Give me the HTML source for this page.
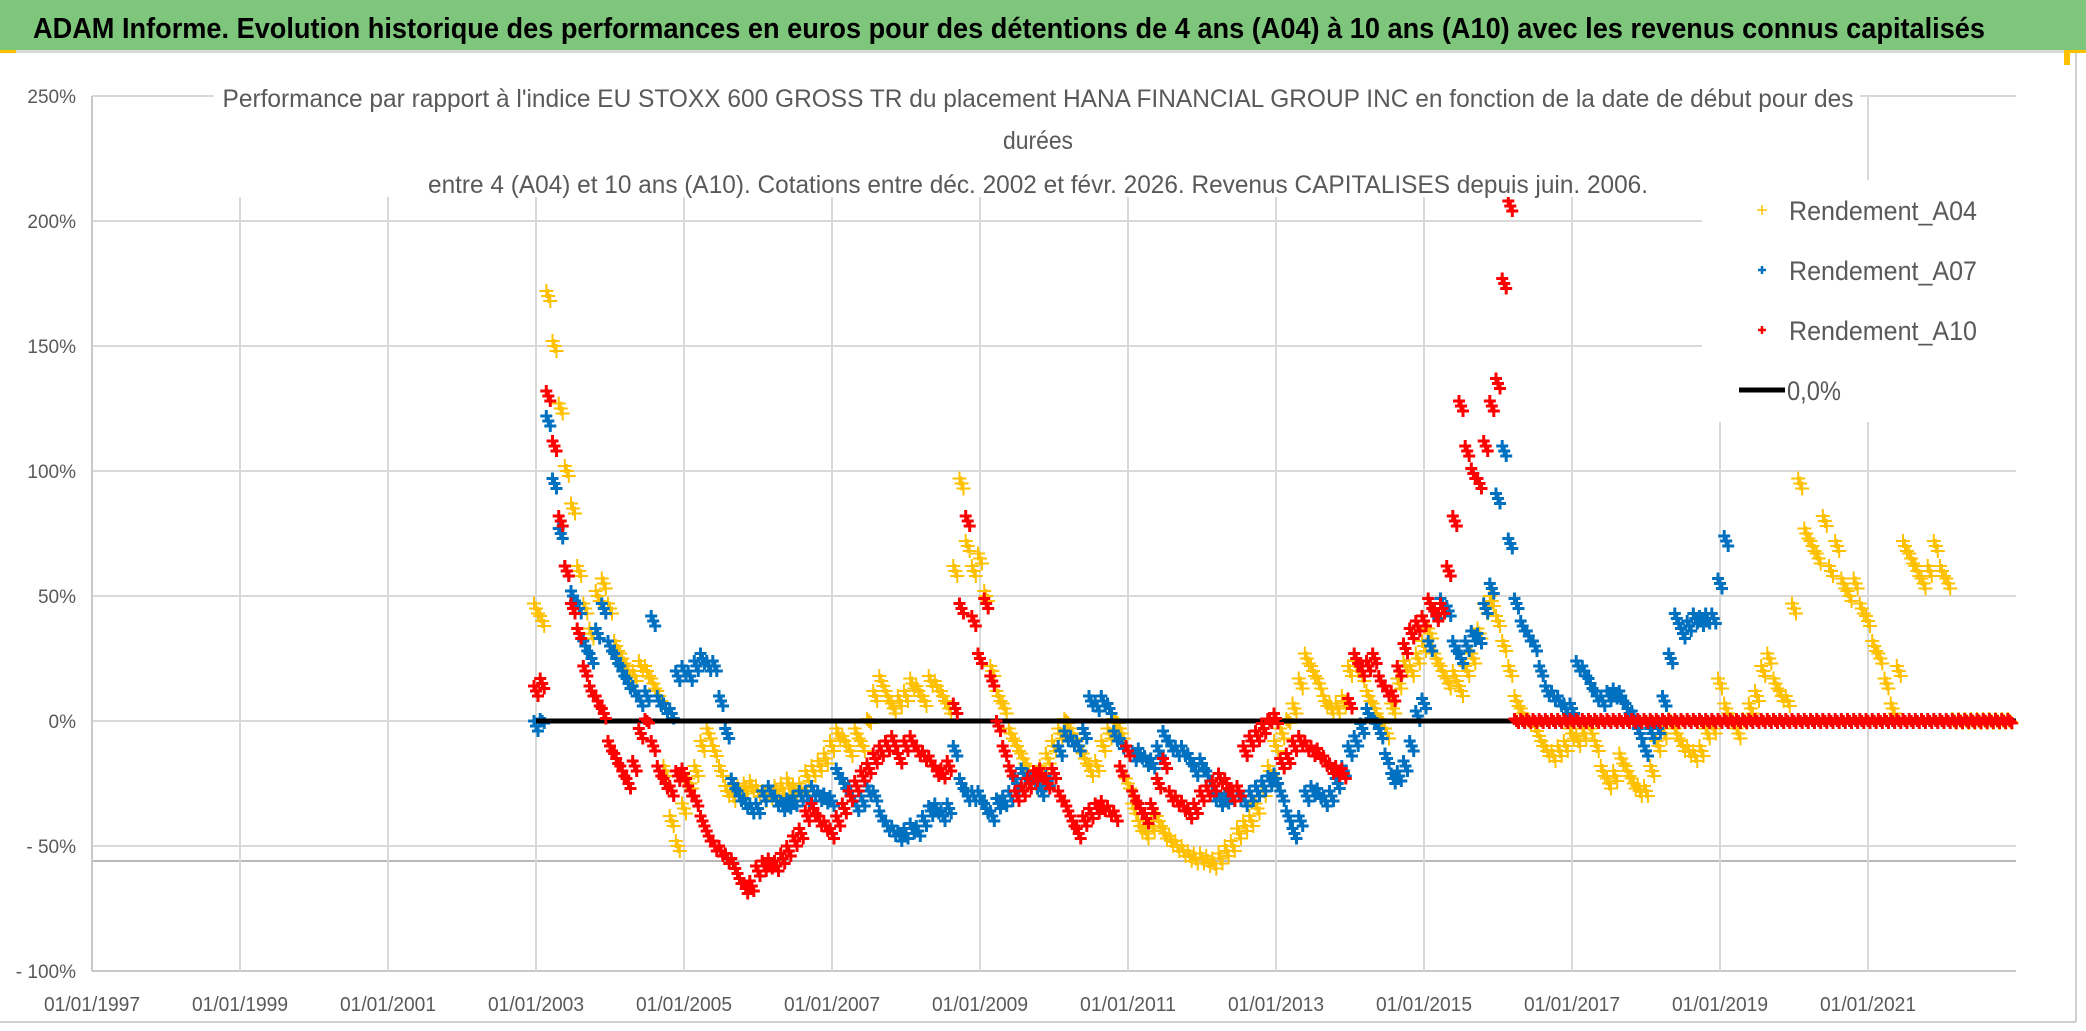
<!DOCTYPE html>
<html><head><meta charset="utf-8"><style>
html,body{margin:0;padding:0;background:#fff;}
svg{display:block;}
text{font-family:"Liberation Sans Narrow","Liberation Sans",sans-serif;}
</style></head>
<body>
<svg id="chart" width="2086" height="1031" viewBox="0 0 2086 1031" xmlns="http://www.w3.org/2000/svg">
  <rect x="0" y="0" width="2086" height="1031" fill="#fff"/>
  <rect x="0" y="0" width="2086" height="50" fill="#7EC67B"/>
  <rect x="0" y="50" width="2086" height="3" fill="#d9d9d9"/>
  <rect x="0" y="50" width="16" height="3" fill="#FFC000"/>
  <rect x="2064" y="50" width="22" height="15" fill="#FFC000"/>
  <rect x="2070" y="53" width="16" height="978" fill="#fff"/>
  <line x1="2076" y1="53" x2="2076" y2="1022" stroke="#d0d0d0" stroke-width="2"/>
  <line x1="0" y1="1022" x2="2076" y2="1022" stroke="#d0d0d0" stroke-width="2"/>
  <text x="33" y="38" font-size="29" font-weight="bold" fill="#000" textLength="1952" lengthAdjust="spacingAndGlyphs">ADAM Informe. Evolution historique des performances en euros pour des détentions de 4 ans (A04) à 10 ans (A10) avec les revenus connus capitalisés</text>
  <g id="grid"></g>
  <g id="series"></g>
  <rect x="214" y="80" width="1646" height="117" fill="#fff"/>
  <text x="1038" y="107" font-size="25" fill="#595959" text-anchor="middle" textLength="1631" lengthAdjust="spacingAndGlyphs">Performance par rapport à l'indice EU STOXX 600 GROSS TR  du placement HANA FINANCIAL GROUP INC en fonction de la date de début pour des</text>
  <text x="1038" y="149" font-size="25" fill="#595959" text-anchor="middle" textLength="70" lengthAdjust="spacingAndGlyphs">durées</text>
  <text x="1038" y="193" font-size="25" fill="#595959" text-anchor="middle" textLength="1220" lengthAdjust="spacingAndGlyphs">entre 4 (A04) et 10 ans (A10). Cotations entre déc. 2002 et févr. 2026. Revenus CAPITALISES depuis juin. 2006.</text>
  <g id="legend">
    <rect x="1702" y="180" width="314" height="242" fill="#fff"/>
    <g>
      <path d="M1757 210h10M1762 205v10" stroke="#FFC000" stroke-width="1.5"/>
      <text x="1789" y="220" font-size="27" fill="#595959" textLength="188" lengthAdjust="spacingAndGlyphs">Rendement_A04</text>
    </g>
    <g>
      <path d="M1758 270h8M1762 266v8" stroke="#0070C0" stroke-width="2.5"/>
      <text x="1789" y="280" font-size="27" fill="#595959" textLength="188" lengthAdjust="spacingAndGlyphs">Rendement_A07</text>
    </g>
    <g>
      <path d="M1758 330h8M1762 326v8" stroke="#FF0000" stroke-width="2.5"/>
      <text x="1789" y="340" font-size="27" fill="#595959" textLength="188" lengthAdjust="spacingAndGlyphs">Rendement_A10</text>
    </g>
    <g>
      <line x1="1739" y1="390" x2="1785" y2="390" stroke="#000" stroke-width="5"/>
      <text x="1787" y="400" font-size="27" fill="#595959" textLength="54" lengthAdjust="spacingAndGlyphs">0,0%</text>
    </g>
  </g>
  <g id="axes"></g>
</svg>
<script>
// ---- data ----
const xTickLabels = ["01/01/1997","01/01/1999","01/01/2001","01/01/2003","01/01/2005","01/01/2007","01/01/2009","01/01/2011","01/01/2013","01/01/2015","01/01/2017","01/01/2019","01/01/2021"];
const xTickYears = [1997,1999,2001,2003,2005,2007,2009,2011,2013,2015,2017,2019,2021];
const yTickValues = [250,200,150,100,50,0,-50,-100];
const yTickLabels = ["250%","200%","150%","100%","50%","0%","- 50%","- 100%"];
const seriesStart = 2003.0;
const monthStep = 1/12;
const a04 = [
45,40,170,150,125,100,85,60,45,35,50,55,
45,30,25,20,18,22,20,15,10,-20,-40,-50,
-35,-25,-20,-10,-5,-12,-20,-28,-30,-28,-27,-26,
-28,-30,-29,-28,-27,-25,-28,-27,-22,-20,-18,-15,
-10,-5,-8,-12,-5,-10,0,10,16,10,5,8,
10,15,12,8,16,14,10,5,60,95,70,60,
65,50,20,10,5,-5,-10,-15,-20,-25,-20,-15,
-10,-5,0,-5,-10,-15,-20,-18,-10,-5,0,-5,
-25,-35,-42,-45,-42,-40,-45,-48,-50,-52,-54,-55,
-55,-56,-57,-55,-52,-50,-45,-42,-40,-35,-28,-20,
-10,-5,0,5,15,25,20,15,8,5,5,8,
20,22,18,10,5,0,-5,5,15,22,20,25,
30,35,25,20,15,18,12,20,25,35,45,48,
40,30,20,8,3,0,-2,-8,-12,-14,-12,-10,
-5,-8,-5,-3,-10,-20,-25,-22,-15,-20,-25,-28,
-28,-20,-10,-5,0,-5,-10,-12,-14,-12,-5,-3,
15,5,0,-5,0,5,10,20,25,15,10,8,
45,95,75,70,65,80,60,70,55,50,55,45,
40,30,25,15,5,20,70,65,60,55,60,70,
60,55,0,0,0,0,0,0,0,0,0,0];
const a07 = [
-2,0,120,95,75,60,50,45,30,25,35,45,
30,25,20,15,12,8,10,40,8,5,3,18,
20,18,22,25,22,22,8,-5,-25,-30,-33,-35,
-35,-30,-28,-32,-34,-33,-32,-30,-30,-28,-30,-31,
-32,-21,-25,-28,-34,-32,-28,-30,-38,-42,-44,-46,
-45,-43,-44,-40,-36,-35,-38,-35,-12,-25,-30,-30,
-30,-35,-38,-33,-32,-30,-25,-21,-23,-25,-28,-24,
-21,-12,-6,-8,-10,-5,8,6,8,5,-6,-9,
-12,-14,-13,-16,-17,-12,-6,-10,-12,-12,-15,-20,
-17,-22,-30,-32,-31,-30,-30,-32,-30,-28,-26,-24,
-23,-30,-38,-45,-40,-30,-28,-29,-32,-30,-25,-20,
-12,-8,-3,3,0,-5,-15,-23,-22,-18,-10,2,
7,30,43,47,44,30,25,30,34,33,45,53,
89,108,71,47,38,34,30,20,12,10,8,5,
5,22,20,15,10,8,10,11,10,5,2,-5,
-12,-5,-3,8,25,41,35,38,41,40,41,41,
55,72];
const a10 = [
12,15,130,110,80,60,45,35,20,12,8,3,
-10,-15,-20,-25,-18,-5,0,-10,-20,-25,-28,-22,
-21,-28,-32,-40,-46,-50,-52,-55,-57,-63,-67,-66,
-60,-58,-57,-58,-55,-52,-48,-45,-38,-35,-40,-42,
-45,-40,-35,-30,-26,-22,-19,-15,-12,-10,-8,-15,
-10,-8,-12,-14,-16,-20,-21,-18,5,45,80,40,
25,47,16,-2,-12,-20,-30,-28,-25,-22,-21,-25,
-21,-30,-34,-40,-45,-40,-37,-35,-34,-36,-38,-20,
-12,-30,-35,-39,-35,-25,-17,-30,-32,-34,-37,-35,
-30,-28,-26,-23,-25,-30,-28,-12,-8,-6,-3,0,
1,-17,-15,-10,-8,-10,-12,-13,-16,-19,-20,-21,
7,25,20,22,25,16,12,10,20,29,35,38,
40,47,42,45,60,80,126,108,99,95,110,126,
135,175,206,0,0,0,0,0,0,0,0,0,
0,0,0,0,0,0,0,0,0,0,0,0,
0,0,0,0,0,0,0,0,0,0,0,0,
0,0,0,0,0,0,0,0,0,0,0,0,
0,0,0,0,0,0,0,0,0,0,0,0,
0,0,0,0,0,0,0,0,0,0,0,0,
0,0,0,0,0,0,0,0,0,0,0,0];
const zeroLineYears = [2003.0, 2023.0];
const zeroLineValues = [0, 0];
const extraLineValue = -56;

// ---- scales ----
const X0 = 92, PX_PER_YEAR = 74, Y0 = 721, PX_PER_PCT = 2.5;
const xMin = 1997, xMax = 2023;
function xs(year){ return X0 + (year - xMin) * PX_PER_YEAR; }
function ys(v){ return Y0 - v * PX_PER_PCT; }
const NS = "http://www.w3.org/2000/svg";
const grid = document.getElementById('grid');
const axes = document.getElementById('axes');
const seriesG = document.getElementById('series');

function mk(tag, attrs){ const e = document.createElementNS(NS, tag); for (const k in attrs) e.setAttribute(k, attrs[k]); return e; }

yTickValues.forEach((v, i) => {
  const l = mk('line', {x1: xs(xMin), x2: xs(xMax), y1: ys(v), y2: ys(v), stroke: i === yTickValues.length-1 ? '#c8c8c8' : '#d9d9d9', 'stroke-width': 2});
  
  
  grid.appendChild(l);
  const t = mk('text', {x: 76, y: ys(v) + 7, 'font-size': 19, fill: '#595959', 'text-anchor': 'end'});
  t.textContent = yTickLabels[i];
  
  
  axes.appendChild(t);
});
const ex = mk('line', {x1: xs(xMin), x2: xs(xMax), y1: ys(extraLineValue), y2: ys(extraLineValue), stroke: '#b8b8b8', 'stroke-width': 2});


grid.appendChild(ex);
xTickYears.forEach((yr, i) => {
  const l = mk('line', {x1: xs(yr), x2: xs(yr), y1: ys(250), y2: ys(-100), stroke: i === 0 ? '#c8c8c8' : '#d9d9d9', 'stroke-width': 2});
  
  
  grid.appendChild(l);
  const t = mk('text', {x: xs(yr), y: 1011, 'font-size': 20, fill: '#595959', 'text-anchor': 'middle', textLength: 96, lengthAdjust: 'spacingAndGlyphs'});
  t.textContent = xTickLabels[i];
  
  
  axes.appendChild(t);
});

const clusterOffsets = [[-2,-5],[0,0],[2,5]];
function drawSeries(values, color, arm, sw, name){
  let d = '';
  values.forEach((v, i) => {
    const cx = xs(seriesStart + i * monthStep), cy = ys(v);
    const offs = v === 0 ? [[-2,-2],[0,0],[2,2]] : clusterOffsets;
    offs.forEach(o => {
      const x = cx + o[0], y = cy + o[1];
      d += 'M' + (x-arm).toFixed(1) + ' ' + y.toFixed(1) + 'h' + (2*arm) + 'M' + x.toFixed(1) + ' ' + (y-arm).toFixed(1) + 'v' + (2*arm);
    });
  });
  const p = mk('path', {d: d, stroke: color, 'stroke-width': sw, fill: 'none'});
  
  
  seriesG.appendChild(p);
}
drawSeries(a04, '#FFC000', 7, 2, 'series-a04');
drawSeries(a07, '#0070C0', 6, 3, 'series-a07');
const zl = mk('line', {x1: xs(zeroLineYears[0]), x2: xs(zeroLineYears[1]), y1: ys(zeroLineValues[0]), y2: ys(zeroLineValues[1]), stroke: '#000', 'stroke-width': 5});


seriesG.appendChild(zl);
drawSeries(a10, '#FF0000', 6, 3, 'series-a10');
</script>
</body></html>
